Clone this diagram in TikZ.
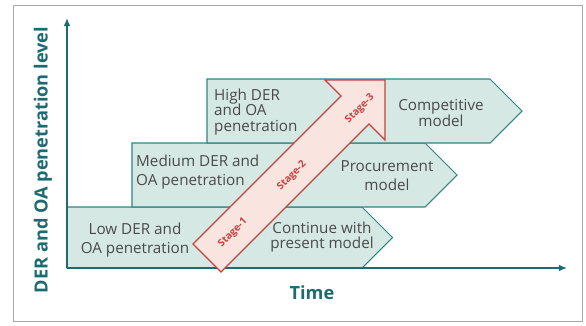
\documentclass[tikz,border=0pt]{standalone}
\usepackage{fontspec}
\setmainfont{Open Sans}
\usetikzlibrary{arrows.meta}

\definecolor{axisteal}{HTML}{1C6A72}
\definecolor{boxfill}{HTML}{D5E8E4}
\definecolor{boxline}{HTML}{2E8585}
\definecolor{textgray}{HTML}{4A4A4A}
\definecolor{stagefill}{HTML}{FAE4E0}
\definecolor{stageline}{HTML}{C4433D}
\definecolor{framegray}{HTML}{A8A8A8}

\begin{document}
\begin{tikzpicture}[x=0.03cm, y=-0.03cm,
    levelbox/.style={draw=boxline, fill=boxfill, line width=0.9pt},
    boxtext/.style={text=textgray, font=\fontsize{13}{16}\selectfont, align=center, inner sep=1pt},
    tighttext/.style={boxtext, font=\fontsize{13}{13.5}\selectfont},
    axisline/.style={draw=axisteal, line width=2pt, -{Latex[length=7pt,width=6pt]}},
    axislabel/.style={text=axisteal, font=\fontsize{15.5}{17}\selectfont\bfseries},
    stagearrow/.style={draw=stageline, fill=stagefill, line width=1pt, line join=miter},
    stagelabel/.style={text=stageline, font=\fontsize{8.5}{9}\selectfont\bfseries, rotate=45, inner sep=0pt}]
    \useasboundingbox (0,0) rectangle (586,325);

    % Draw the frame
    \draw[framegray, line width=0.8pt] (13,5) rectangle (582,321);

    % Draw the three levels as arrow boxes (left/top/bottom/right)
    \foreach \l/\t/\b/\r in {67/207/268/362, 132/143/207/425, 207/79/143/490} {
        \draw[levelbox] (\l,\t) -- (\r,\t) -- ({\r+(\b-\t)/2},{(\t+\b)/2}) -- (\r,\b) -- (\l,\b) -- cycle;
    }

    % Add the level texts and the model texts
    \node[boxtext] (low) at (135,240) {Low DER and\\OA penetration};
    \node[boxtext, align=left, anchor=west, inner sep=0pt] (medium) at (136,172) {Medium DER and\\OA penetration};
    \node[tighttext, align=left, anchor=west, inner sep=0pt] (high) at (214,112) {High DER\\and OA\\penetration};
    \node[tighttext] (present) at (322,237) {Continue with\\present model};
    \node[boxtext] (procure) at (387,176) {Procurement\\model};
    \node[tighttext] (compete) at (441,113) {Competitive\\model};

    % Draw the axes
    \draw[axisline] (67,268) -- (67,18);
    \draw[axisline] (67,268) -- (567,268);
    \node[axislabel, rotate=90] (ylabel) at (43,160) {DER and OA penetration level};
    \node[axislabel] (xlabel) at (312,293) {Time};

    % Draw the stage arrow
    \draw[stagearrow] (193,244) -- (341,96) -- (325,80) -- (385,80) -- (385,140) -- (369,124) -- (221,272) -- cycle;
    \node[stagelabel] (stage1) at (233,233) {Stage-1};
    \node[stagelabel] (stage2) at (292,176) {Stage-2};
    \node[stagelabel] (stage3) at (360,109) {Stage-3};
\end{tikzpicture}
\end{document}
